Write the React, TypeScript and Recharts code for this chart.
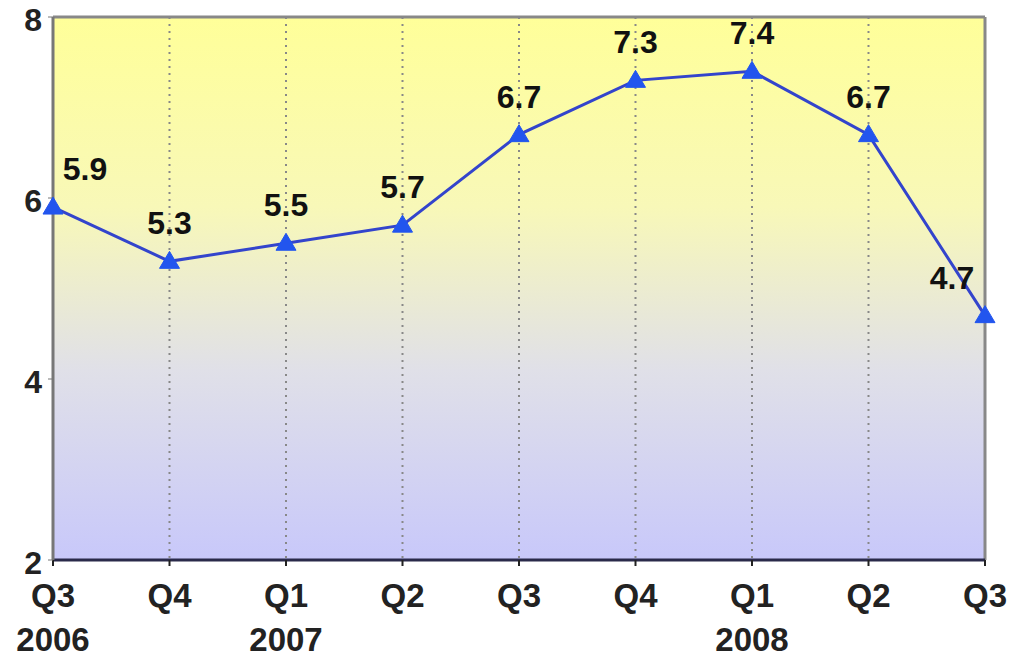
import React from 'react';
import {
  LineChart,
  Line,
  XAxis,
  YAxis,
  CartesianGrid,
  ReferenceLine,
  LabelList
} from 'recharts';

const quarters = ['Q3', 'Q4', 'Q1', 'Q2', 'Q3', 'Q4', 'Q1', 'Q2', 'Q3'];
const years = ['2006', '', '2007', '', '', '', '2008', '', ''];
const values = [5.9, 5.3, 5.5, 5.7, 6.7, 7.3, 7.4, 6.7, 4.7];
const yTicks = [2, 4, 6, 8];

const data = quarters.map((q, i) => ({
  key: `${q}-${i}`,
  value: values[i]
}));

const FONT = 'Arial, "Liberation Sans", sans-serif';

const XTick = ({ x, y, payload }: any) => {
  const i = payload.index;
  return (
    <g>
      <text x={x} y={y + 39} textAnchor="middle" fontFamily={FONT} fontWeight="bold" fontSize={33} fill="#222">
        {quarters[i]}
      </text>
      {years[i] && (
        <text x={x} y={y + 83} textAnchor="middle" fontFamily={FONT} fontWeight="bold" fontSize={33} fill="#222">
          {years[i]}
        </text>
      )}
    </g>
  );
};

const YTick = ({ x, y, payload }: any) => (
  <text x={x - 4} y={y + 14} textAnchor="end" fontFamily={FONT} fontWeight="bold" fontSize={32} fill="#222">
    {payload.value}
  </text>
);

const Triangle = (props: any) => {
  const { cx, cy } = props;
  if (cx == null || cy == null) return null;
  return <path d={`M${cx},${cy - 10} L${cx + 10},${cy + 7} L${cx - 10},${cy + 7} Z`} fill="#2255EE" stroke="#2255EE" />;
};

const ValueLabel = (props: any) => {
  const { x, y, value, index } = props;
  let dx = 0;
  if (index === 0) dx = 32;
  if (index === values.length - 1) dx = -33;
  return (
    <text x={x + dx} y={y - 27} textAnchor="middle" fontFamily={FONT} fontWeight="bold" fontSize={32} fill="#111">
      {value}
    </text>
  );
};

const App = () => {
  return (
    <div style={{ position: 'absolute', left: 0, top: 0, width: 1010, height: 658, background: '#fff' }}>
      <LineChart width={1010} height={658} data={data} margin={{ top: 17, right: 25, left: 0, bottom: 0 }}>
        <defs>
          <linearGradient id="bg" x1="0" y1="0" x2="0" y2="1">
            <stop offset="0%" stopColor="#FFFF99" />
            <stop offset="35%" stopColor="#F8F8B8" />
            <stop offset="65%" stopColor="#E0E0E8" />
            <stop offset="100%" stopColor="#C8C8FA" />
          </linearGradient>
        </defs>
        <CartesianGrid
          horizontal={false}
          fill="url(#bg)"
          fillOpacity={1}
          strokeDasharray="2 5"
          stroke="#888"
          strokeWidth={2}
        />
        <ReferenceLine y={8} stroke="#888" strokeWidth={3} />
        <ReferenceLine x={data[data.length - 1].key} stroke="#888" strokeWidth={3} />
        <XAxis
          dataKey="key"
          interval={0}
          height={98}
          tick={<XTick />}
          axisLine={{ stroke: '#2a2a4a', strokeWidth: 3 }}
          tickLine={{ stroke: '#222', strokeWidth: 2 }}
          tickSize={6}
        />
        <YAxis
          domain={[2, 8]}
          ticks={yTicks}
          width={53}
          tick={<YTick />}
          axisLine={{ stroke: '#777', strokeWidth: 3 }}
          tickLine={{ stroke: '#777', strokeWidth: 1 }}
          tickSize={5}
        />
        <Line
          type="linear"
          dataKey="value"
          stroke="#3344CC"
          strokeWidth={3}
          dot={<Triangle />}
          activeDot={false}
          isAnimationActive={false}
        >
          <LabelList dataKey="value" content={<ValueLabel />} />
        </Line>
      </LineChart>
    </div>
  );
};

export default App;
